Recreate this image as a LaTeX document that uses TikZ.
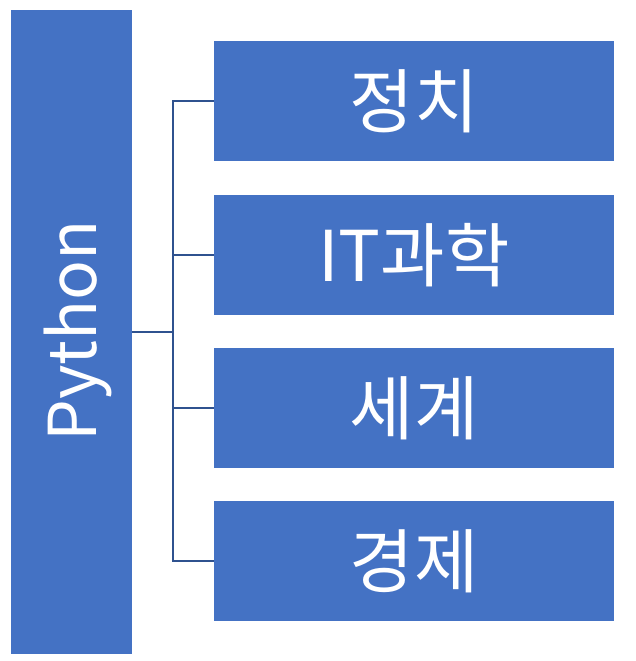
\documentclass[tikz,border=0pt]{standalone}
\usepackage{fontspec}
\setmainfont{Noto Sans CJK KR}
\definecolor{boxblue}{HTML}{4472C4}
\definecolor{linkblue}{HTML}{2F528F}
\begin{document}
\begin{tikzpicture}[x=1pt,y=-1pt,
  rootbox/.style={fill=boxblue,draw=none,inner sep=0pt,minimum width=121pt,minimum height=644pt},
  leafbox/.style={fill=boxblue,draw=none,inner sep=0pt,minimum width=400pt,minimum height=120pt,text=white,font=\fontsize{70}{74}\selectfont},
  link/.style={draw=linkblue,line width=1.8pt}]
\useasboundingbox (0,0) rectangle (635,661);
\node[rootbox] (root) at (71.5,332) {};
\node[text=white,font=\fontsize{66}{70}\selectfont,rotate=90,inner sep=0pt] (rootlabel) at (78,331) {Python};
\node[leafbox] (a) at (414,101) {정치};
\node[leafbox] (b) at (414,255) {IT과학};
\node[leafbox] (c) at (414,408) {세계};
\node[leafbox] (d) at (414,561) {경제};
\coordinate (j) at (173,332);
\draw[link] (root.east) -- (j);
\draw[link] (a.west) -- (173,101 -| j) |- (d.west);
\draw[link] (j |- b.west) -- (b.west);
\draw[link] (j |- c.west) -- (c.west);
\end{tikzpicture}
\end{document}
